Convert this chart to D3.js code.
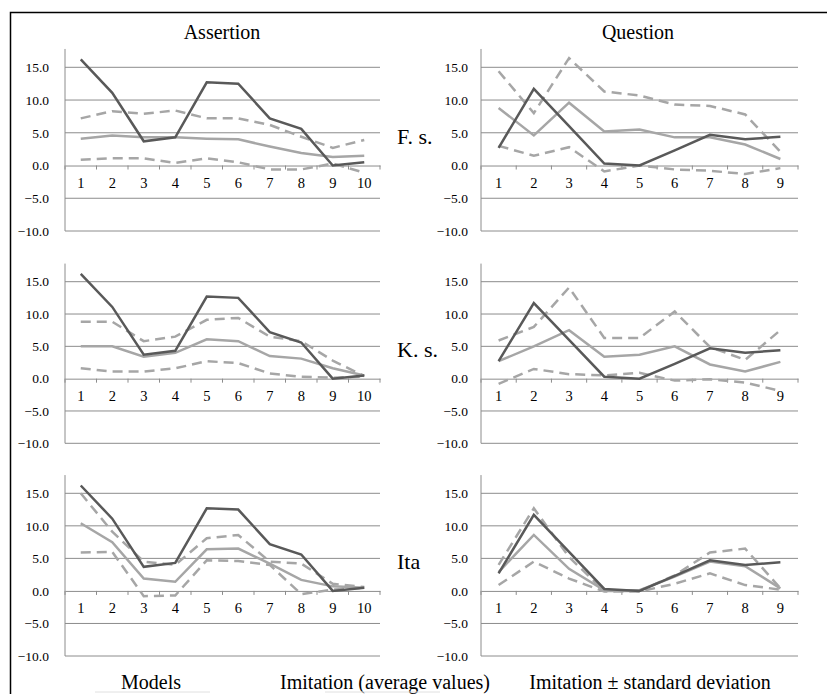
<!DOCTYPE html>
<html lang="en">
  <head>
    <meta charset="utf-8">
    <script src="https://d3js.org/d3.v7.min.js"></script>
    <style>
      body {margin: 0; background: white;}
    </style>
  </head>
  <body>
    <script type="text/javascript">
      // column titles, row labels, legend texts
      const colTitles = ["Assertion", "Question"];
      const rowLabels = ["F. s.", "K. s.", "Ita"];
      const legendLabels = ["Models", "Imitation (average values)", "Imitation \u00b1 standard deviation"];
      const yTicks = [-10, -5, 0, 5, 10, 15];

      const assertCats = [1, 2, 3, 4, 5, 6, 7, 8, 9, 10];
      const questCats = [1, 2, 3, 4, 5, 6, 7, 8, 9];

      // models (same in every row)
      const assertModels = [16.2, 11.1, 3.7, 4.3, 12.7, 12.5, 7.2, 5.6, 0.0, 0.5];
      const questModels = [2.7, 11.7, 6.0, 0.3, 0.0, 2.3, 4.7, 4.0, 4.4];

      // assertion, F. s.
      const aFsMean = [4.1, 4.6, 4.3, 4.3, 4.1, 4.0, 2.9, 1.9, 1.3, 1.5];
      const aFsUp = [7.2, 8.3, 7.9, 8.4, 7.2, 7.2, 6.2, 4.4, 2.7, 3.9];
      const aFsLo = [0.9, 1.1, 1.1, 0.4, 1.1, 0.5, -0.6, -0.6, 0.3, -1.1];
      // assertion, K. s.
      const aKsMean = [5.0, 5.0, 3.4, 4.0, 6.1, 5.8, 3.5, 3.1, 1.6, 0.5];
      const aKsUp = [8.8, 8.8, 5.8, 6.5, 9.1, 9.4, 6.5, 5.8, 2.8, 0.4];
      const aKsLo = [1.6, 1.1, 1.1, 1.6, 2.7, 2.4, 0.8, 0.3, 0.15, 0.3];
      // assertion, Ita
      const aItMean = [10.4, 7.5, 1.9, 1.4, 6.4, 6.5, 4.2, 1.7, 0.7, 0.5];
      const aItUp = [15.0, 9.1, 4.5, 4.0, 8.1, 8.6, 4.5, 4.2, 1.1, 0.6];
      const aItLo = [5.9, 6.0, -0.8, -0.7, 4.7, 4.6, 4.0, -0.5, 0.2, 0.5];

      // question, F. s.
      const qFsMean = [8.8, 4.6, 9.6, 5.2, 5.5, 4.3, 4.3, 3.2, 1.0];
      const qFsUp = [14.4, 8.0, 16.4, 11.3, 10.7, 9.3, 9.1, 7.8, 2.1];
      const qFsLo = [3.0, 1.5, 2.8, -0.9, 0.0, -0.6, -0.8, -1.3, -0.4];
      // question, K. s.
      const qKsMean = [2.7, 5.0, 7.5, 3.4, 3.7, 5.0, 2.2, 1.1, 2.6];
      const qKsUp = [5.9, 8.0, 14.1, 6.3, 6.3, 10.4, 4.9, 2.9, 7.5];
      const qKsLo = [-0.8, 1.5, 0.7, 0.5, 0.9, -0.3, -0.1, -0.6, -1.9];
      // question, Ita
      const qItMean = [2.9, 8.6, 3.4, 0.1, 0.1, 2.2, 4.5, 3.8, 0.4];
      const qItUp = [4.0, 12.7, 5.2, 0.0, 0.0, 2.4, 5.9, 6.5, 0.4];
      const qItLo = [0.9, 4.5, 1.9, -0.1, -0.1, 1.1, 2.7, 0.9, 0.2];

      const panels = [
        [{cats: assertCats, models: assertModels, mean: aFsMean, up: aFsUp, lo: aFsLo},
         {cats: questCats, models: questModels, mean: qFsMean, up: qFsUp, lo: qFsLo}],
        [{cats: assertCats, models: assertModels, mean: aKsMean, up: aKsUp, lo: aKsLo},
         {cats: questCats, models: questModels, mean: qKsMean, up: qKsUp, lo: qKsLo}],
        [{cats: assertCats, models: assertModels, mean: aItMean, up: aItUp, lo: aItLo},
         {cats: questCats, models: questModels, mean: qItMean, up: qItUp, lo: qItLo}]
      ];

      const w = 827;
      const h = 694;
      const dark = "#595959";
      const light = "#a6a6a6";
      const grid = "#8c8c8c";
      const serif = "'Liberation Serif', 'Times New Roman', 'DejaVu Serif', serif";

      // plot areas: x range per column, y range (-10 -> 15) per row
      const cols = [[65, 380], [481, 798]];
      const rows = [[231, 67.3], [443.3, 281.7], [656, 493.3]];
      const labelX = [49, 468];

      var svg = d3.select("body")
            .append("svg")
            .attr("width", w)
            .attr("height", h)
            .style("font-family", serif);

      // frame
      svg.append("path")
          .attr("d", "M10.5," + h + "V12.5H" + w)
          .attr("fill", "none")
          .attr("stroke", "#000")
          .attr("stroke-width", 1.5);

      // column titles
      svg.selectAll(".title")
          .data(colTitles)
          .enter()
          .append("text")
          .attr("x", function(d, i) { return i == 0 ? 222 : 638; })
          .attr("y", 39)
          .attr("text-anchor", "middle")
          .style("font-family", serif)
          .style("font-size", "20px")
          .text(function(d) { return d; });

      // row labels
      rowLabels.forEach(function(label, r) {
        var yScale = d3.scaleLinear().domain([-10, 15]).range(rows[r]);
        svg.append("text")
            .attr("x", 397)
            .attr("y", yScale(4.5))
            .attr("dy", "0.35em")
            .style("font-family", serif)
            .style("font-size", "22px")
            .text(label);
      });

      panels.forEach(function(row, r) {
        row.forEach(function(p, c) {
          var xScale = d3.scaleBand()
                .domain(p.cats)
                .range(cols[c]);
          var yScale = d3.scaleLinear()
                .domain([-10, 15])
                .range(rows[r]);
          var g = svg.append("g");

          // gridlines
          g.selectAll(".grid")
              .data(yTicks.filter(function(t) { return t != 0; }))
              .enter()
              .append("line")
              .attr("x1", cols[c][0])
              .attr("x2", cols[c][1])
              .attr("y1", function(d) { return yScale(d); })
              .attr("y2", function(d) { return yScale(d); })
              .attr("stroke", grid)
              .attr("stroke-width", 1);

          // y axis line
          g.append("line")
              .attr("x1", cols[c][0])
              .attr("x2", cols[c][0])
              .attr("y1", yScale(-10))
              .attr("y2", yScale(17.8))
              .attr("stroke", grid)
              .attr("stroke-width", 1);

          // y labels
          g.selectAll(".ylab")
              .data(yTicks)
              .enter()
              .append("text")
              .attr("x", labelX[c])
              .attr("y", function(d) { return yScale(d); })
              .attr("dy", "0.35em")
              .attr("text-anchor", "end")
              .style("font-family", serif)
              .style("font-size", "13.5px")
              .text(function(d) { return d3.format(".1f")(d); });

          // x axis at zero, ticks between categories
          var x0 = d3.axisBottom(xScale).tickSize(0).tickPadding(12);
          var xg = g.append("g")
              .attr("transform", "translate(0," + yScale(0) + ")")
              .call(x0);
          xg.attr("font-family", null);
          xg.select(".domain").attr("stroke", grid);
          xg.selectAll("text")
              .style("font-family", serif)
              .style("font-size", "14.5px")
              .attr("fill", "#000");
          var bounds = p.cats.map(function(d) { return xScale(d); }).concat([cols[c][1]]);
          g.selectAll(".xtick")
              .data(bounds)
              .enter()
              .append("line")
              .attr("x1", function(d) { return d; })
              .attr("x2", function(d) { return d; })
              .attr("y1", yScale(0))
              .attr("y2", yScale(0) + 4)
              .attr("stroke", grid);

          var line = d3.line()
                .x(function(d, i) { return xScale(p.cats[i]) + xScale.bandwidth() / 2; })
                .y(function(d) { return yScale(d); });

          [p.up, p.lo].forEach(function(series) {
            g.append("path")
                .attr("d", line(series))
                .attr("fill", "none")
                .attr("stroke", light)
                .attr("stroke-width", 2.5)
                .attr("stroke-dasharray", "10,6");
          });
          g.append("path")
              .attr("d", line(p.mean))
              .attr("fill", "none")
              .attr("stroke", light)
              .attr("stroke-width", 2.5);
          g.append("path")
              .attr("d", line(p.models))
              .attr("fill", "none")
              .attr("stroke", dark)
              .attr("stroke-width", 2.5);
        });
      });

      // legend
      var legendX = [151, 385, 650];
      svg.selectAll(".legend")
          .data(legendLabels)
          .enter()
          .append("text")
          .attr("x", function(d, i) { return legendX[i]; })
          .attr("y", 689)
          .attr("text-anchor", "middle")
          .style("font-family", serif)
          .style("font-size", "20px")
          .text(function(d) { return d; });
      svg.selectAll(".legline")
          .data([[95, 210], [325, 440]])
          .enter()
          .append("line")
          .attr("x1", function(d) { return d[0]; })
          .attr("x2", function(d) { return d[1]; })
          .attr("y1", 692)
          .attr("y2", 692)
          .attr("stroke", "#e0e0e0")
          .attr("stroke-width", 1);
    </script>
  </body>
</html>
